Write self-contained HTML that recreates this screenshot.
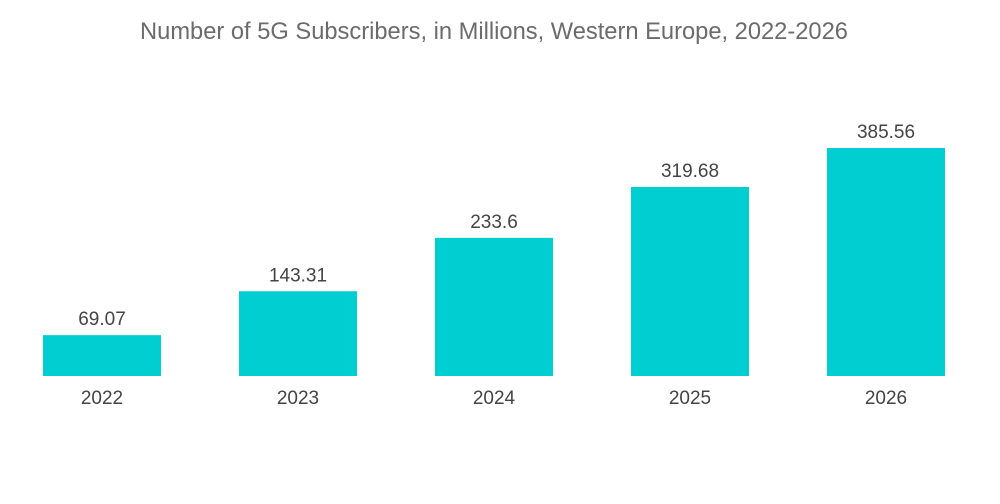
<!DOCTYPE html>
<html><head><meta charset="utf-8"><style>
body{margin:0;background:#fff;}
svg{display:block;font-family:"Liberation Sans",sans-serif;}
</style></head><body>
<svg id="chart" width="1000" height="504">
<text x="494" y="39" text-anchor="middle" font-size="23.7" fill="#6b6b6b">Number of 5G Subscribers, in Millions, Western Europe, 2022-2026</text>
<g id="bars"></g>
</svg>
<script>
const categories = ["2022","2023","2024","2025","2026"];
const values = [69.07,143.31,233.6,319.68,385.56];
const valueLabels = ["69.07","143.31","233.6","319.68","385.56"];
const baseY = 376, plotH = 228, maxV = 385.56;
const y = v => baseY - v / maxV * plotH;
const x = i => 43 + i * 196;
const bw = 118;
const g = document.getElementById('bars');
const ns = 'http://www.w3.org/2000/svg';
categories.forEach((c, i) => {
  const r = document.createElementNS(ns, 'rect');
  r.setAttribute('x', x(i)); r.setAttribute('y', y(values[i]));
  r.setAttribute('width', bw); r.setAttribute('height', baseY - y(values[i]));
  r.setAttribute('fill', '#00ced1');
  
  
  g.appendChild(r);
  const t = document.createElementNS(ns, 'text');
  t.setAttribute('x', x(i) + bw / 2); t.setAttribute('y', y(values[i]) - 10);
  t.setAttribute('text-anchor', 'middle'); t.setAttribute('font-size', '19'); t.setAttribute('fill', '#444');
  t.textContent = valueLabels[i];
  
  
  g.appendChild(t);
  const l = document.createElementNS(ns, 'text');
  l.setAttribute('x', x(i) + bw / 2); l.setAttribute('y', 404);
  l.setAttribute('text-anchor', 'middle'); l.setAttribute('font-size', '19'); l.setAttribute('fill', '#444');
  l.textContent = c;
  
  
  g.appendChild(l);
});
</script>
</body></html>
